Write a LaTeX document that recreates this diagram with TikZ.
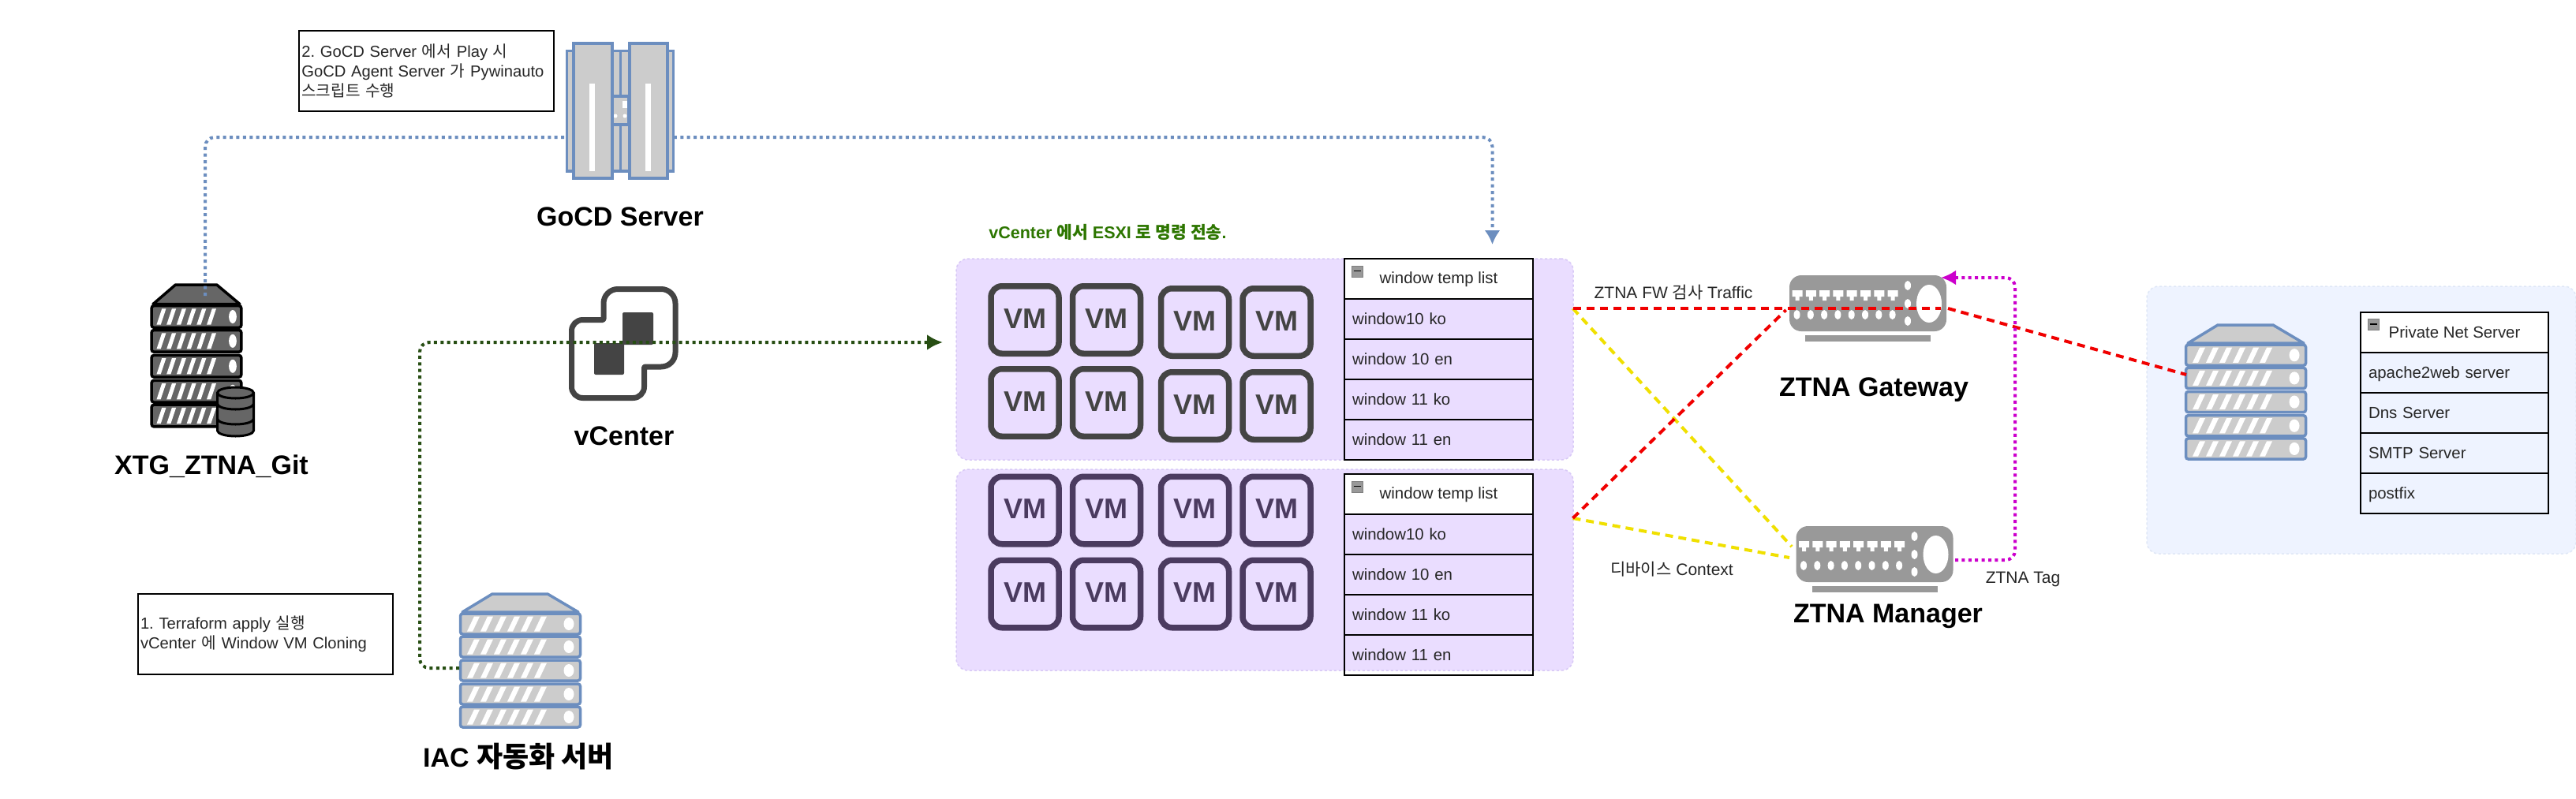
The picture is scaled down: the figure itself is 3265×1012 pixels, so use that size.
\documentclass[tikz,border=0pt]{standalone}
\usepackage{fontspec}
\setmainfont{Liberation Sans}
\newfontfamily\krf{Noto Sans CJK KR}
\usetikzlibrary{arrows.meta}
\frenchspacing
\definecolor{srvblue}{HTML}{6C8EBF}
\definecolor{srvgray}{HTML}{CCCCCC}
\definecolor{darkgray}{HTML}{666666}
\definecolor{swgray}{HTML}{999999}
\definecolor{iconink}{HTML}{444444}
\definecolor{vmink}{HTML}{4B3B60}
\definecolor{zonepurple}{HTML}{EADDFF}
\definecolor{zonepurpleedge}{HTML}{D8C9F6}
\definecolor{zoneblue}{HTML}{EEF3FF}
\definecolor{zoneblueedge}{HTML}{DFE7F6}
\definecolor{cmdgreen}{HTML}{2D7600}
\definecolor{pathgreen}{HTML}{274E13}
\definecolor{magentaline}{HTML}{CC00CC}
\definecolor{yellowline}{HTML}{F0E000}
\definecolor{redline}{HTML}{F00000}
\tikzset{
  biglabel/.style={font=\fontsize{34}{38}\selectfont\bfseries,text=black,inner sep=0pt},
  smalllabel/.style={font=\fontsize{21}{25}\selectfont,text=black!85,inner sep=0pt},
  notebox/.style={draw=black,line width=2pt,fill=white,font=\fontsize{20.2}{25}\selectfont,align=left,inner sep=3pt,text=black!85},
  hdrcell/.style={draw=black,line width=2.5pt,fill=white,minimum height=50.8pt,text height=15pt,text depth=2pt,font=\fontsize{20.4}{25}\selectfont,inner sep=0pt,text=black!85},
  rowcell/.style={draw=black,line width=2.5pt,minimum height=51pt,text height=15pt,text depth=2pt,font=\fontsize{20.4}{25}\selectfont,inner xsep=10pt,inner ysep=0pt,align=left,text=black!85},
  vmbox/.style={draw=#1,text=#1,line width=7.5pt,rounded corners=14pt,minimum width=86pt,minimum height=85.5pt,inner sep=0pt,text depth=3.5pt,font=\fontsize{36}{38}\selectfont\bfseries},
  zone/.style={line width=1.5pt,dashed,rounded corners=15pt,inner sep=0pt},
  anchorbox/.style={inner sep=0pt},
  bluepath/.style={draw=srvblue,line width=4pt,dash pattern=on 4pt off 4.4pt,rounded corners=12pt},
  greenpath/.style={draw=pathgreen,line width=4pt,dash pattern=on 4pt off 4.4pt,rounded corners=12pt},
  magpath/.style={draw=magentaline,line width=4pt,dash pattern=on 4pt off 4.4pt,rounded corners=12pt},
  redpath/.style={draw=redline,line width=4pt,dash pattern=on 10pt off 7pt},
  yellowpath/.style={draw=yellowline,line width=4pt,dash pattern=on 10pt off 7pt}
}
% server stack, unit box 155 x 171
\newcommand{\serverstack}[6]{%
 \begin{scope}[shift={(#1,#2)},xscale=#3,yscale=#4]
  \draw[draw=#6,fill=#5,line width=3.5pt,line join=round] (42,1)--(112,1)--(151,24)--(4,24)--cycle;
  \foreach \ry in {26,55,85,115,144}{
    \draw[draw=#6,fill=#5,line width=3.5pt,rounded corners=3pt] (1.5,\ry) rectangle (153.5,\ry+26);
    \foreach \sx in {0,...,5}{
      \fill[white] (10+\sx*17,\ry+22.5)--(19+\sx*17,\ry+3.5)--(26+\sx*17,\ry+3.5)--(17+\sx*17,\ry+22.5)--cycle;
    }
    \fill[white] (139,\ry+13) ellipse (6.5 and 8);
  }
 \end{scope}}
% switch body
\newcommand{\switchbox}[2]{%
 \begin{scope}[shift={(#1,#2)}]
  \fill[swgray,rounded corners=15pt] (0,0) rectangle (199,71);
  \fill[swgray] (20,76) rectangle (179,84);
  \foreach \i in {0,...,7}{
    \fill[white] (3.5+\i*17.3,19)--(16.5+\i*17.3,19)--(16.5+\i*17.3,27)--(12.5+\i*17.3,27)--(12.5+\i*17.3,32)--(7.5+\i*17.3,32)--(7.5+\i*17.3,27)--(3.5+\i*17.3,27)--cycle;
    \fill[white] (9.5+\i*17.3,50) ellipse (4 and 6);
  }
  \foreach \ey in {13,36,58}{\fill[white] (150,\ey) ellipse (4 and 6);}
  \fill[white] (177,36) ellipse (16 and 24);
 \end{scope}}
% collapse icon
\newcommand{\minusicon}[2]{%
  \fill[srvgray!75!black,draw=gray] (#1,#2) rectangle (#1+14,#2+14);
  \draw[black,line width=1.6pt] (#1+2.5,#2+6.5)--(#1+11.5,#2+6.5);}
% template list
\newcommand{\wintable}[2]{%
  \node[hdrcell,minimum width=239pt] (#1h) at (1823.5,#2+25.4) {window temp list};
  \foreach \rn/\rt [count=\ri from 0] in {a/window10 ko,b/window 10 en,c/window 11 ko,d/window 11 en}{
    \node[rowcell,text width=219pt] (#1\rn) at (1823.5,#2+76.5+\ri*51) {\rt};
  }
  \minusicon{1713}{#2+9}}
\begin{document}
\begin{tikzpicture}[x=1pt,y=-1pt]
\useasboundingbox (0,0) rectangle (3265,1012);
\fill[white] (0,0) rectangle (3265,1012);
\clip (0,0) rectangle (3265,1012);

% zones
\node[zone,draw=zonepurpleedge,fill=zonepurple,minimum width=782pt,minimum height=255pt] (zoneA) at (1603,455.5) {};
\node[zone,draw=zonepurpleedge,fill=zonepurple,minimum width=782pt,minimum height=255pt] (zoneB) at (1603,722.5) {};
\node[zone,draw=zoneblueedge,fill=zoneblue,minimum width=544pt,minimum height=339pt] (zoneC) at (2993,532.5) {};

% anchors of the connectors
\coordinate (gitPort) at (260,375);
\coordinate (blueBend) at (1891.5,174);
\coordinate (blueEnd) at (1891.5,310);
\coordinate (iacPort) at (582,847);
\coordinate (greenBend) at (532,434);
\coordinate (greenEnd) at (1195,434);
\coordinate (zoneAout) at (1993.5,391);
\coordinate (zoneBout) at (1993.5,657);
\coordinate (gwThrough) at (2460,391);
\coordinate (gwLeft) at (2263.6,393);
\coordinate (gwRight) at (2469,391);
\coordinate (srvPort) at (2771,475);
\coordinate (mgrTop) at (2271,693);
\coordinate (mgrLeft) at (2268,707);
\coordinate (mgrPort) at (2478,710);
\coordinate (magBend) at (2554,352);
\coordinate (gwPort) at (2460,352);

% git server with its database
\serverstack{191}{360}{0.748}{1.064}{darkgray}{black}
\draw[fill=darkgray,draw=black,line width=3pt]
  (275.5,498) arc[start angle=180,end angle=360,x radius=23,y radius=7]
  -- (321.5,546) arc[start angle=0,end angle=180,x radius=23,y radius=7] -- cycle;
\foreach \cy in {498,512,531}{
  \draw[black,line width=3pt] (275.5,\cy) arc[start angle=180,end angle=0,x radius=23,y radius=7];
}
\node[anchorbox,minimum width=116pt,minimum height=182pt] (git) at (249,452) {};
\draw[bluepath,-{Latex[length=18pt,width=20pt]}] (gitPort) |- (blueBend) -- (blueEnd);

% GoCD server
\draw[draw=srvblue,fill=srvgray,line width=3.5pt] (718.5,64.5) rectangle (853.5,217);
\draw[srvblue,line width=3pt] (786,64.5)--(786,217);
\draw[draw=srvblue,fill=srvgray,line width=3.5pt] (776,122) rectangle (797,158);
\fill[white] (789,128) rectangle (795,137);
\fill[white] (780,147) circle (2.5) (792,147) circle (2.5);
\draw[draw=srvblue,fill=srvgray,line width=4pt] (727,55) rectangle (776,226);
\draw[draw=srvblue,fill=srvgray,line width=4pt] (798,55) rectangle (846,226);
\fill[white] (747,106) rectangle (754,217);
\fill[white] (818,106) rectangle (825,217);
\node[anchorbox,minimum width=138pt,minimum height=173pt] (gocd) at (786,140.5) {};

% vCenter
\draw[iconink,line width=7pt,line join=round,fill=white]
  (765,405.5)[rounded corners=18pt]--(765,366.5)--(856,366.5)--(856,465)[rounded corners=1pt]--(816.5,465)
  [rounded corners=14pt]--(816.5,504.5)--(724.5,504.5)--(724.5,405.5)[rounded corners=1pt]--cycle;
\fill[iconink,rounded corners=2pt] (789,396) rectangle (828,437);
\fill[iconink,rounded corners=2pt] (753,435) rectangle (791,475);
\node[anchorbox,minimum width=140pt,minimum height=145pt] (vcenter) at (790,435.5) {};

% IAC and private servers
\serverstack{582}{752}{1}{1}{srvgray}{srvblue}
\node[anchorbox,minimum width=155pt,minimum height=171pt] (iac) at (659.5,837.5) {};
\serverstack{2769}{411}{1}{1.006}{srvgray}{srvblue}
\node[anchorbox,minimum width=155pt,minimum height=172pt] (priv) at (2846.5,497) {};

\draw[greenpath,-{Latex[length=20pt,width=20pt]}] (iacPort) -| (greenBend) -- (greenEnd);

% labels
\node[biglabel] (lblGocd) at (786,275) {GoCD Server};
\node[biglabel] (lblGit) at (268,591) {XTG\_ZTNA\_Git};
\node[biglabel] (lblVc) at (791,553) {vCenter};
\node[biglabel] (lblIac) at (657,959) {IAC {\krf\bfseries\fontsize{36}{38}\selectfont 자동화 서버}};
\node[biglabel] (lblGw) at (2375,494) {ZTNA Gateway};
\node[biglabel] (lblMgr) at (2393,781) {ZTNA Manager};

% notes
\node[notebox,text width=317pt,minimum height=102pt] (note2) at (540.8,90)
  {2. GoCD Server {\krf 에서} Play {\krf 시}\\GoCD Agent Server {\krf 가} Pywinauto\\{\krf 스크립트 수행}};
\node[notebox,text width=317pt,minimum height=102pt] (note1) at (336.5,804)
  {1. Terraform apply {\krf 실행}\\vCenter {\krf 에} Window VM Cloning};
\node[font=\fontsize{21.5}{25}\selectfont\bfseries,text=cmdgreen,inner sep=0pt] (lblCmd) at (1404,294)
  {vCenter {\krf\bfseries 에서} ESXI {\krf\bfseries 로 명령 전송}.};

% VMs
\foreach \vn/\vx/\vy in {a/1299/405.5,b/1402.5/405.5,c/1514.5/408.5,d/1618/408.5,e/1299/510.5,f/1402.5/510.5,g/1514.5/514.5,h/1618/514.5}{
  \node[vmbox=iconink] (vm1\vn) at (\vx,\vy) {VM};
}
\foreach \vn/\vx/\vy in {a/1299/647,b/1402.5/647,c/1514.5/647,d/1618/647,e/1299/753,f/1402.5/753,g/1514.5/753,h/1618/753}{
  \node[vmbox=vmink] (vm2\vn) at (\vx,\vy) {VM};
}

% lists
\wintable{tA}{328}
\wintable{tB}{601}
\node[hdrcell,minimum width=238pt] (pvh) at (3111,421.5) {Private Net Server};
\foreach \rn/\rt [count=\ri from 0] in {a/apache2web server,b/Dns Server,c/SMTP Server,d/postfix}{
  \node[rowcell,text width=218pt] (pv\rn) at (3111,472.5+\ri*51) {\rt};
}
\minusicon{3001}{404.5}

% switches
\switchbox{2268}{349}
\node[anchorbox,minimum width=199pt,minimum height=84pt] (gateway) at (2367.5,391) {};
\switchbox{2276.5}{667}
\node[anchorbox,minimum width=199pt,minimum height=84pt] (manager) at (2376,709) {};

% cross connectors
\draw[yellowpath] (zoneAout) -- (mgrTop);
\draw[yellowpath] (zoneBout) -- (mgrLeft);
\draw[redpath] (zoneAout) -- (gwThrough);
\draw[redpath] (zoneBout) -- (gwLeft);
\draw[redpath] (gwRight) -- (srvPort);
\draw[magpath,-{Latex[length=19pt,width=19pt]}] (mgrPort) -| (magBend) -- (gwPort);

\node[smalllabel] (lblFw) at (2121,371) {ZTNA FW {\krf 검사} Traffic};
\node[smalllabel] (lblCtx) at (2119,722) {{\krf 디바이스} Context};
\node[smalllabel] (lblTag) at (2564,734) {ZTNA Tag};
\end{tikzpicture}
\end{document}
